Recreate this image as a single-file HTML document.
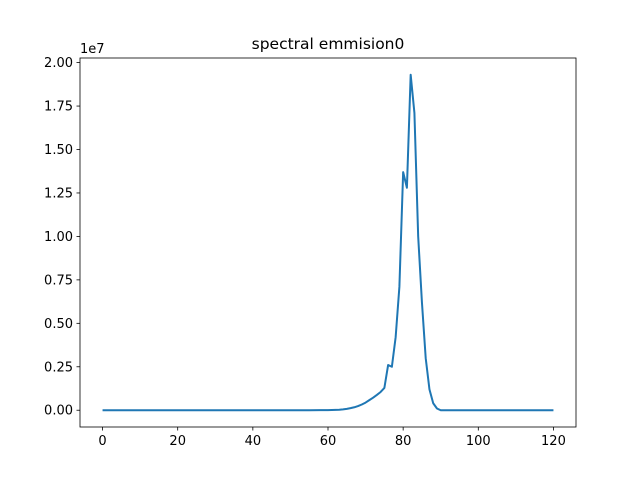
<!DOCTYPE html>
<html><head><meta charset="utf-8"><style>
body{margin:0;background:#fff;font-family:"Liberation Sans","DejaVu Sans",sans-serif}
svg text{font-family:"DejaVu Sans","Liberation Sans",sans-serif;font-size:13px;fill:#000}
</style></head><body>
<svg id="chart" width="640" height="480">
<rect width="640" height="480" fill="#fff"/>
<text x="328" y="49" text-anchor="middle" style="font-size:15.5px">spectral emmision0</text>
<text x="80" y="53">1e7</text>
<g id="ticks"></g>
<path id="line" fill="none" stroke="#1f77b4" stroke-width="2" stroke-linejoin="round"/>
<rect x="80" y="58" width="496" height="369" fill="none" stroke="#000" stroke-width="0.8"/>
</svg>
<script>
const xs=[0,55,58,60,61,62,63,64,65,66,67,68,69,70,71,72,73,74,75,76,77,78,79,80,81,82,83,84,85,86,87,88,89,90,120];
const ys=[0,0,0.0003,0.0006,0.001,0.0018,0.003,0.005,0.008,0.012,0.017,0.024,0.033,0.044,0.058,0.072,0.088,0.105,0.128,0.26,0.25,0.42,0.71,1.37,1.28,1.93,1.71,1.0,0.62,0.30,0.12,0.04,0.01,0,0];
const xTicks=[0,20,40,60,80,100,120];
const yTicks=[0,0.25,0.5,0.75,1.0,1.25,1.5,1.75,2.0];
const L=80,R=576,T=58,B=427,xmin=-6,xmax=126,ymin=-0.0965,ymax=2.0265;
const sx=v=>L+(v-xmin)/(xmax-xmin)*(R-L);
const sy=v=>B-(v-ymin)/(ymax-ymin)*(B-T);
const ns="http://www.w3.org/2000/svg",g=document.getElementById('ticks');
function mk(t,a){const e=document.createElementNS(ns,t);for(const k in a)e.setAttribute(k,a[k]);g.appendChild(e);return e;}
xTicks.forEach(v=>{const x=sx(v);
const l=mk('line',{x1:x,x2:x,y1:B,y2:B+3.5,stroke:'#000','stroke-width':0.8});


const t=mk('text',{x:x,y:B+18,'text-anchor':'middle'});t.textContent=v;

});
yTicks.forEach(v=>{const y=sy(v);
const l=mk('line',{x1:L-3.5,x2:L,y1:y,y2:y,stroke:'#000','stroke-width':0.8});


const t=mk('text',{x:L-7,y:y+4.5,'text-anchor':'end'});t.textContent=v.toFixed(2);

});
document.getElementById('line').setAttribute('d',xs.map((x,i)=>(i?'L':'M')+sx(x).toFixed(2)+','+sy(ys[i]).toFixed(2)).join(''));
</script>
</body></html>
